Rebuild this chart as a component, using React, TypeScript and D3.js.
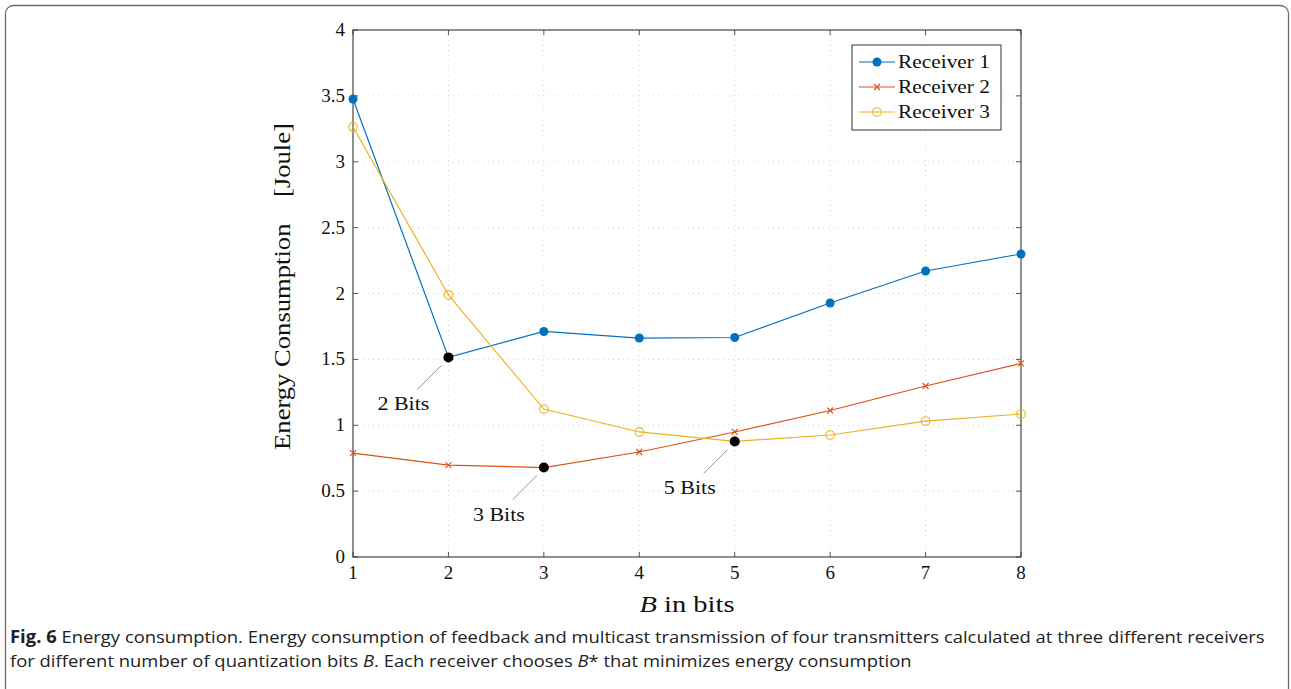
import { useEffect, useRef } from 'react'
import * as d3 from 'd3'

const bits = [1, 2, 3, 4, 5, 6, 7, 8]
const receiver1 = [3.476, 1.515, 1.712, 1.662, 1.666, 1.928, 2.171, 2.3]
const receiver2 = [0.789, 0.698, 0.679, 0.797, 0.949, 1.112, 1.298, 1.469]
const receiver3 = [3.264, 1.989, 1.123, 0.949, 0.877, 0.926, 1.032, 1.085]
const yTicks = [0, 0.5, 1, 1.5, 2, 2.5, 3, 3.5, 4]
const seriesNames = ['Receiver 1', 'Receiver 2', 'Receiver 3']
// chosen optimum per receiver: [B, value, label]
const optima: [number, number, string][] = [
  [2, 1.515, '2 Bits'],
  [3, 0.679, '3 Bits'],
  [5, 0.877, '5 Bits'],
]

const COLORS = ['#0072bd', '#d95319', '#edb120']
const SERIF = '"Liberation Serif", "DejaVu Serif", serif'
const CAP = '"Open Sans", "Noto Sans", sans-serif'
const M = { left: 353, top: 30 }

// squeeze/stretch a text horizontally to a target width (TeX fonts are wider than Times)
function fit(sel: any, x: number, y: number, w: number) {
  const len = sel.node().getComputedTextLength()
  sel.attr('x', 0).attr('y', 0).attr('transform', `translate(${x},${y}) scale(${w / len},1)`)
}

export default function App() {
  const svgRef = useRef<SVGSVGElement>(null)

  useEffect(() => {
    const svg = d3.select(svgRef.current)
    svg.selectAll('*').remove()

    // outer frame (rounded, runs off the bottom)
    svg.append('rect').attr('x', 5.5).attr('y', 5.5).attr('width', 1283).attr('height', 700)
      .attr('rx', 8).attr('fill', 'none').attr('stroke', '#6b6b6b').attr('stroke-width', 1.3)

    const W = 668, H = 527
    const g = svg.append('g').attr('transform', `translate(${M.left},${M.top})`)
    const x = d3.scaleLinear().domain([1, 8]).range([0, W])
    const y = d3.scaleLinear().domain([0, 4]).range([H, 0])

    // grid
    g.selectAll('.gx').data(bits.slice(1, -1)).join('line')
      .attr('x1', d => x(d)).attr('x2', d => x(d)).attr('y1', 0).attr('y2', H)
      .attr('stroke', '#c8c8c8').attr('stroke-width', 0.8).attr('stroke-dasharray', '1,4')
    g.selectAll('.gy').data(yTicks.slice(1, -1)).join('line')
      .attr('x1', 0).attr('x2', W).attr('y1', d => y(d)).attr('y2', d => y(d))
      .attr('stroke', '#c8c8c8').attr('stroke-width', 0.8).attr('stroke-dasharray', '1,4')

    // inward ticks on all sides
    const tk = 5
    bits.forEach(b => {
      g.append('line').attr('x1', x(b)).attr('x2', x(b)).attr('y1', H).attr('y2', H - tk).attr('stroke', '#555')
      g.append('line').attr('x1', x(b)).attr('x2', x(b)).attr('y1', 0).attr('y2', tk).attr('stroke', '#555')
    })
    yTicks.forEach(v => {
      g.append('line').attr('x1', 0).attr('x2', tk).attr('y1', y(v)).attr('y2', y(v)).attr('stroke', '#555')
      g.append('line').attr('x1', W).attr('x2', W - tk).attr('y1', y(v)).attr('y2', y(v)).attr('stroke', '#555')
    })
    g.append('rect').attr('width', W).attr('height', H).attr('fill', 'none')
      .attr('stroke', '#333').attr('stroke-width', 1.1)

    // tick labels
    g.selectAll('.xl').data(bits).join('text')
      .attr('x', d => x(d)).attr('y', H + 22).attr('text-anchor', 'middle')
      .attr('font-family', SERIF).attr('font-size', 19).attr('fill', '#111').text(d => d)
    g.selectAll('.yl').data(yTicks).join('text')
      .attr('x', -8).attr('y', d => y(d) + 6).attr('text-anchor', 'end')
      .attr('font-family', SERIF).attr('font-size', 19).attr('fill', '#111').text(d => String(d))

    // axis titles
    const xt = g.append('text').attr('text-anchor', 'middle')
      .attr('font-family', SERIF).attr('font-size', 23).attr('fill', '#111')
    xt.append('tspan').attr('font-style', 'italic').text('B')
    xt.append('tspan').text(' in bits')
    fit(xt, W / 2, H + 55, 95)
    const yt = g.append('text').attr('text-anchor', 'middle').attr('font-family', SERIF)
      .attr('font-size', 23).attr('fill', '#111').style('white-space', 'pre')
      .text('Energy Consumption    [Joule]')
    const ylen = (yt.node() as SVGTextElement).getComputedTextLength()
    yt.attr('transform', `translate(-63,${H / 2 - 7}) rotate(-90) scale(${327 / ylen},1)`)

    // series
    const data = [receiver1, receiver2, receiver3]
    const line = d3.line<number>().x((_, i) => x(bits[i])).y(d => y(d))
    data.forEach((s, k) => {
      g.append('path').datum(s).attr('d', line).attr('fill', 'none')
        .attr('stroke', COLORS[k]).attr('stroke-width', 1.2)
    })
    const marker = (sel: any, k: number, cx: number, cy: number) => {
      if (k === 0) sel.append('circle').attr('cx', cx).attr('cy', cy).attr('r', 4.5).attr('fill', COLORS[0])
      else if (k === 1) {
        const s = 3
        sel.append('path').attr('d', `M${cx - s},${cy - s}L${cx + s},${cy + s}M${cx - s},${cy + s}L${cx + s},${cy - s}`)
          .attr('stroke', COLORS[1]).attr('stroke-width', 1.1)
      } else sel.append('circle').attr('cx', cx).attr('cy', cy).attr('r', 4.3)
        .attr('fill', 'none').attr('stroke', COLORS[2]).attr('stroke-width', 1.1)
    }
    data.forEach((s, k) => s.forEach((v, i) => marker(g, k, x(bits[i]), y(v))))

    // optimum markers with pins
    optima.forEach(([b, v, lab]) => {
      const cx = x(b), cy = y(v)
      g.append('line').attr('x1', cx - 7).attr('y1', cy + 8).attr('x2', cx - 31).attr('y2', cy + 32)
        .attr('stroke', '#888').attr('stroke-width', 0.9)
      g.append('circle').attr('cx', cx).attr('cy', cy).attr('r', 5).attr('fill', '#000')
      const t = g.append('text').attr('text-anchor', 'middle')
        .attr('font-family', SERIF).attr('font-size', 19).attr('fill', '#111').text(lab)
      fit(t, cx - 45, cy + 53, 52)
    })

    // legend
    const lg = g.append('g').attr('transform', `translate(${W - 169},${15})`)
    lg.append('rect').attr('width', 149).attr('height', 85).attr('fill', '#fff')
      .attr('stroke', '#333').attr('stroke-width', 1)
    seriesNames.forEach((n, k) => {
      const ly = 17 + k * 25
      lg.append('line').attr('x1', 7).attr('x2', 43).attr('y1', ly).attr('y2', ly)
        .attr('stroke', COLORS[k]).attr('stroke-width', 1.2)
      marker(lg, k, 25, ly)
      const t = lg.append('text').attr('font-family', SERIF)
        .attr('font-size', 19).attr('fill', '#111').text(n)
      fit(t, 46, ly + 6, 92)
    })

    // caption
    const c1 = svg.append('text').attr('font-family', CAP).attr('font-size', 17).attr('fill', '#222')
    c1.append('tspan').attr('font-weight', 'bold').text('Fig. 6')
    c1.append('tspan').text(' Energy consumption. Energy consumption of feedback and multicast transmission of four transmitters calculated at three different receivers')
    fit(c1, 10, 643, 1255)
    const c2 = svg.append('text').attr('font-family', CAP).attr('font-size', 17).attr('fill', '#222')
    c2.append('tspan').text('for different number of quantization bits ')
    c2.append('tspan').attr('font-style', 'italic').text('B')
    c2.append('tspan').text('. Each receiver chooses ')
    c2.append('tspan').attr('font-style', 'italic').text('B')
    c2.append('tspan').text('* that minimizes energy consumption')
    fit(c2, 10, 667, 902)
  }, [])

  return (
    <svg ref={svgRef} width={1291} height={689}
      style={{ display: 'block', position: 'absolute', left: 0, top: 0 }} />
  )
}
